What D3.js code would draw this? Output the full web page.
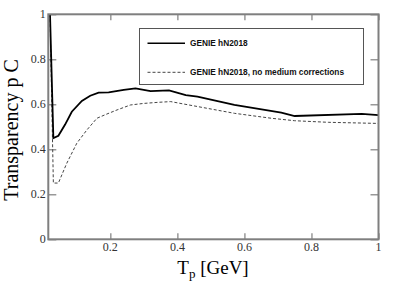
<!DOCTYPE html>
<html>
  <head>
    <meta charset="utf-8">
    <title>Transparency p C</title>
    <script type="text/javascript" src="https://cdn.jsdelivr.net/npm/d3@7"></script>
    <style>
      body { margin: 0; background: #fff; }
      .tick-label { font-family: "Liberation Serif", "Times New Roman", serif; font-size: 12px; fill: #333; }
      .title { font-family: "Liberation Serif", "Times New Roman", serif; font-size: 19px; fill: #000; }
      .legend { font-family: "Liberation Sans", Arial, sans-serif; font-size: 8.3px; font-weight: bold; fill: #111; }
    </style>
  </head>
  <body>
    <div id="chart"></div>
    <script type="text/javascript">
      // values
      var xTicks = [0.2, 0.4, 0.6, 0.8, 1];
      var yTicks = [0, 0.2, 0.4, 0.6, 0.8, 1];
      var xLabels = ['0.2', '0.4', '0.6', '0.8', '1'];
      var yLabels = ['0', '0.2', '0.4', '0.6', '0.8', '1'];
      var seriesNames = ['GENIE hN2018', 'GENIE hN2018, no medium corrections'];

      var tpMed = [0.02, 0.03, 0.045, 0.065, 0.085, 0.115, 0.14, 0.165, 0.195, 0.24, 0.275, 0.32, 0.375, 0.425, 0.46, 0.57, 0.71, 0.75, 0.95, 1.0];
      var trMed = [1.0, 0.45, 0.46, 0.51, 0.567, 0.615, 0.638, 0.652, 0.653, 0.664, 0.671, 0.659, 0.662, 0.641, 0.634, 0.597, 0.563, 0.548, 0.557, 0.552];

      var tpNoMed = [0.02, 0.03, 0.045, 0.07, 0.1, 0.13, 0.16, 0.19, 0.22, 0.26, 0.3, 0.345, 0.38, 0.42, 0.57, 0.68, 0.75, 0.85, 1.0];
      var trNoMed = [1.0, 0.25, 0.25, 0.338, 0.427, 0.486, 0.538, 0.557, 0.575, 0.597, 0.604, 0.609, 0.612, 0.601, 0.56, 0.538, 0.527, 0.52, 0.515];

      var width = 399, height = 286;
      var padL = 48.3, padR = 378.5, padT = 14.3, padB = 239.3;

      var x = d3.scaleLinear().domain([0.0149, 1]).range([padL, padR]);
      var y = d3.scaleLinear().domain([0, 1]).range([padB, padT]);

      var svg = d3.select('#chart').append('svg')
        .attr('width', width)
        .attr('height', height);

      var axisColor = '#7f7f7f';

      function styleTicks(g) {
        g.select('.domain').remove();
        g.selectAll('line').attr('stroke', axisColor).attr('stroke-width', 1.2);
      }

      // ticks (all pointing inward)
      svg.append('g').attr('transform', 'translate(0,' + padB + ')')
        .call(d3.axisBottom(x).tickValues(xTicks).tickSizeInner(-6).tickSizeOuter(0).tickFormat(''))
        .call(styleTicks);
      svg.append('g').attr('transform', 'translate(0,' + padT + ')')
        .call(d3.axisTop(x).tickValues(xTicks).tickSizeInner(-6).tickSizeOuter(0).tickFormat(''))
        .call(styleTicks);
      svg.append('g').attr('transform', 'translate(' + padL + ',0)')
        .call(d3.axisLeft(y).tickValues(yTicks).tickSizeInner(-8).tickSizeOuter(0).tickFormat(''))
        .call(styleTicks);
      svg.append('g').attr('transform', 'translate(' + padR + ',0)')
        .call(d3.axisRight(y).tickValues(yTicks).tickSizeInner(-8).tickSizeOuter(0).tickFormat(''))
        .call(styleTicks);

      // tick labels
      svg.selectAll('.xlab').data(xTicks).enter().append('text')
        .attr('class', 'tick-label')
        .attr('x', function(d) { return x(d); })
        .attr('y', padB + 12)
        .attr('text-anchor', 'middle')
        .text(function(d, i) { return xLabels[i]; });
      svg.selectAll('.ylab').data(yTicks).enter().append('text')
        .attr('class', 'tick-label')
        .attr('x', padL - 2.5)
        .attr('y', function(d) { return y(d) + 4; })
        .attr('text-anchor', 'end')
        .text(function(d, i) { return yLabels[i]; });

      // curves
      var line = d3.line()
        .x(function(d) { return x(d[0]); })
        .y(function(d) { return y(d[1]); });

      svg.append('path')
        .datum(d3.zip(tpNoMed, trNoMed))
        .attr('d', line)
        .attr('fill', 'none')
        .attr('stroke', '#444')
        .attr('stroke-width', 1)
        .attr('stroke-dasharray', '3,2');

      svg.append('path')
        .datum(d3.zip(tpMed, trMed))
        .attr('d', line)
        .attr('fill', 'none')
        .attr('stroke', '#000')
        .attr('stroke-width', 1.8);

      // frame
      svg.append('rect')
        .attr('x', padL).attr('y', padT)
        .attr('width', padR - padL).attr('height', padB - padT)
        .attr('fill', 'none')
        .attr('stroke', axisColor)
        .attr('stroke-width', 2);

      // legend
      var lg = svg.append('g');
      lg.append('rect')
        .attr('x', 139.5).attr('y', 28.5)
        .attr('width', 224).attr('height', 56)
        .attr('fill', '#fff')
        .attr('stroke', '#555')
        .attr('stroke-width', 1);
      var legY = [43.3, 72.3];
      seriesNames.forEach(function(name, i) {
        lg.append('line')
          .attr('x1', 147.5).attr('x2', 185)
          .attr('y1', legY[i]).attr('y2', legY[i])
          .attr('stroke', i === 0 ? '#000' : '#444')
          .attr('stroke-width', i === 0 ? 1.6 : 1)
          .attr('stroke-dasharray', i === 0 ? null : '3,2');
        lg.append('text')
          .attr('class', 'legend')
          .attr('x', 190)
          .attr('y', legY[i] + 3)
          .text(name);
      });

      // axis titles
      svg.append('text')
        .attr('class', 'title')
        .style('font-size', '20px')
        .attr('transform', 'translate(18,130) rotate(-90)')
        .attr('text-anchor', 'middle')
        .text('Transparency p C');

      var xt = svg.append('text')
        .attr('class', 'title')
        .attr('x', 213)
        .attr('y', 274)
        .attr('text-anchor', 'middle');
      xt.append('tspan').text('T');
      xt.append('tspan').attr('dy', 4).attr('font-size', '13px').text('p');
      xt.append('tspan').attr('dy', -4).text(' [GeV]');
    </script>
  </body>
</html>
